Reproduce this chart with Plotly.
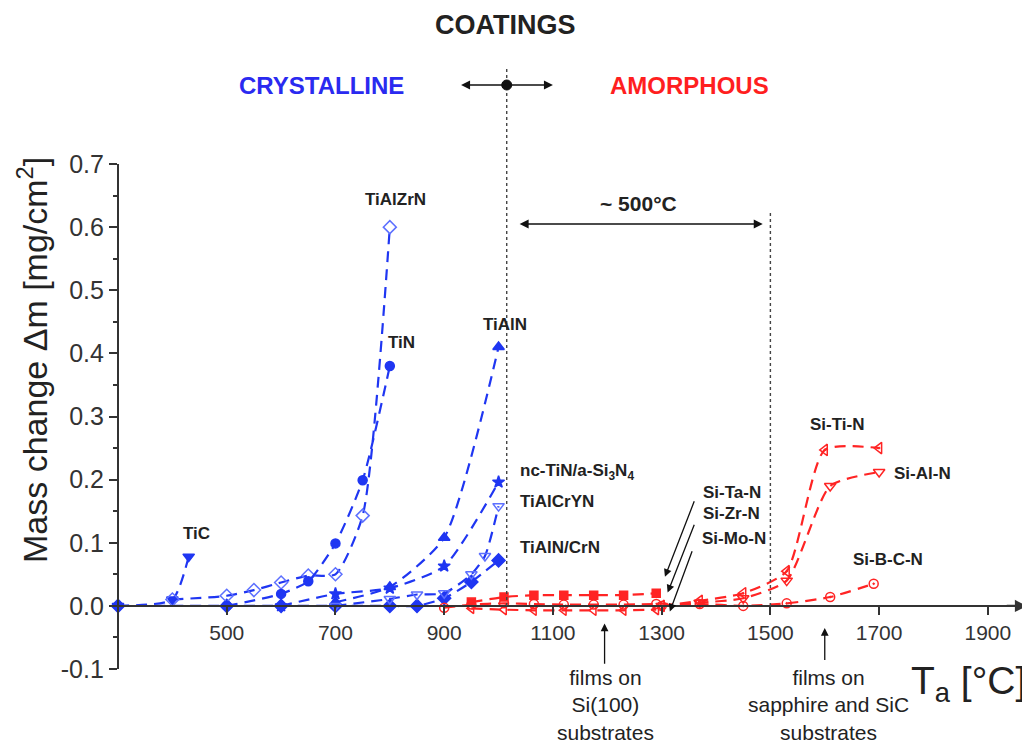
import plotly.graph_objects as go

# ---------------- data ----------------
tic_T = [300, 400, 430]
tic_m = [0.0, 0.01, 0.078]

tialzrn_T = [400, 500, 550, 600, 650, 700, 750, 800]
tialzrn_m = [0.01, 0.016, 0.025, 0.037, 0.048, 0.05, 0.143, 0.60]

tin_T = [500, 600, 650, 700, 750, 800]
tin_m = [0.0, 0.019, 0.039, 0.099, 0.199, 0.38]

tialn_T = [700, 800, 900, 1000]
tialn_m = [0.006, 0.03, 0.108, 0.41]

nc_T = [600, 700, 800, 900, 1000]
nc_m = [0.0, 0.019, 0.028, 0.063, 0.196]

tialcryn_T = [700, 800, 850, 900, 950, 975, 1000]
tialcryn_m = [0.0, 0.011, 0.018, 0.02, 0.05, 0.079, 0.158]

tialncrn_T = [300, 500, 600, 700, 800, 850, 900, 950, 1000]
tialncrn_m = [0.0, 0.0, 0.0, 0.0, 0.0, 0.0, 0.012, 0.038, 0.072]

sitan_T = [950, 1010, 1065, 1120, 1175, 1230, 1290]
sitan_m = [0.006, 0.014, 0.017, 0.017, 0.017, 0.017, 0.02]

sizrn_T = [900, 950, 1010, 1065, 1120, 1175, 1230, 1290]
sizrn_m = [-0.003, 0.002, 0.004, 0.003, 0.002, 0.002, 0.002, 0.003]

simon_T = [950, 1010, 1065, 1120, 1175, 1230, 1290]
simon_m = [-0.004, -0.006, -0.007, -0.007, -0.007, -0.007, -0.006]

sitin_T = [1300, 1370, 1450, 1530, 1600, 1700]
sitin_m = [0.0, 0.008, 0.02, 0.055, 0.247, 0.25]

sialn_T = [1300, 1370, 1450, 1530, 1610, 1700]
sialn_m = [0.0, 0.005, 0.012, 0.04, 0.19, 0.212]

sibcn_T = [1300, 1370, 1450, 1530, 1610, 1690]
sibcn_m = [0.0, 0.003, 0.0, 0.004, 0.014, 0.035]

x_ticks = [500, 700, 900, 1100, 1300, 1500, 1700, 1900]
y_ticks = [-0.1, 0.0, 0.1, 0.2, 0.3, 0.4, 0.5, 0.6, 0.7]
y_ticktext = ["-0.1", "0.0", "0.1", "0.2", "0.3", "0.4", "0.5", "0.6", "0.7"]
x_range = [300, 1972]
y_range = [-0.1, 0.7]

BLUE = "#1f36f2"
LBLUE = "#5d70ff"
RED = "#ff2424"
TXT = "#222222"
AX = "#333333"
FONT = "Liberation Sans, Arial, sans-serif"
DASH = "11px,7px"

fig = go.Figure()


def add(T, m, color, symbol, mcolor=None, size=9, lw=2.2):
    fig.add_trace(go.Scatter(
        x=T, y=m, mode="lines+markers", cliponaxis=False,
        line=dict(color=color, width=lw, dash=DASH, shape="spline", smoothing=0.6),
        marker=dict(symbol=symbol, size=size, color=mcolor or color,
                    line=dict(color=mcolor or color, width=1.5)),
        showlegend=False, hoverinfo="skip"))


add(tialncrn_T, tialncrn_m, BLUE, "diamond", size=10)
add(tic_T, tic_m, BLUE, "triangle-down", size=10)
add(tialzrn_T, tialzrn_m, BLUE, "diamond-open", mcolor=LBLUE, size=10)
add(tin_T, tin_m, BLUE, "circle", size=9)
add(tialn_T, tialn_m, BLUE, "triangle-up", size=10)
add(nc_T, nc_m, BLUE, "star", size=9)
add(tialcryn_T, tialcryn_m, BLUE, "triangle-down-open", mcolor=LBLUE, size=10)

add(sitan_T, sitan_m, RED, "square", size=8)
add(sizrn_T, sizrn_m, RED, "circle-open", size=9)
add(simon_T, simon_m, RED, "triangle-left-open", size=9)
add(sitin_T, sitin_m, RED, "triangle-left-open-dot", size=10)
add(sialn_T, sialn_m, RED, "triangle-down-open", size=10)
add(sibcn_T, sibcn_m, RED, "circle-open-dot", size=9)

# ---------------- geometry (page body has an 8px margin) ----------------
OFF = 8
W, H = 1022, 736
L, R, T_, B = 110, 3, 156, 75
pw, ph = W - L - R, H - T_ - B


def pyp(py):  # screen pixel y -> paper y
    return (H - B - (py - OFF)) / ph


def pxp(px):  # screen pixel x -> paper x
    return (px - OFF - L) / pw


y0p = (0 - y_range[0]) / (y_range[1] - y_range[0])

ann = []


def text(x, y, s, size=17, color=TXT, bold=True, xanchor="center", xref="x", yref="y", **kw):
    ann.append(dict(x=x, y=y, xref=xref, yref=yref, text=("<b>%s</b>" % s) if bold else s,
                    showarrow=False, xanchor=xanchor, yanchor="middle",
                    font=dict(family=FONT, size=size, color=color), **kw))


def arrow(x, y, ax, ay, side="end", color="#111111", width=1.3, head=2, asz=1.2):
    ann.append(dict(x=x, y=y, ax=ax, ay=ay, xref="x", yref="y", axref="x", ayref="y",
                    text="", showarrow=True, arrowhead=head, startarrowhead=head,
                    arrowsize=asz, startarrowsize=asz, arrowwidth=width,
                    arrowcolor=color, arrowside=side))


# curve labels
text(810, 0.643, "TiAlZrN")
text(822, 0.418, "TiN")
text(1012, 0.445, "TiAlN")
text(445, 0.115, "TiC")
text(1036, 0.212, "nc-TiN/a-Si<sub>3</sub>N<sub>4</sub>", xanchor="left")
text(1036, 0.165, "TiAlCrYN", xanchor="left")
text(1036, 0.092, "TiAlN/CrN", xanchor="left")
text(1373, 0.180, "Si-Ta-N", xanchor="left")
text(1373, 0.147, "Si-Zr-N", xanchor="left")
text(1371, 0.106, "Si-Mo-N", xanchor="left")
text(1570, 0.288, "Si-Ti-N", xanchor="left")
text(1724, 0.209, "Si-Al-N", xanchor="left")
text(1649, 0.074, "Si-B-C-N", xanchor="left")
text(1258, 0.637, "~ 500°C", size=21)

# header texts
text(pxp(505), pyp(25), "COATINGS", size=27, xref="paper", yref="paper")
text(pxp(321), pyp(85), "CRYSTALLINE", size=24, color="#2a2af0", xref="paper", yref="paper")
text(pxp(689), pyp(85), "AMORPHOUS", size=24, color="#ff1f1f", xref="paper", yref="paper")

# axis titles
ann.append(dict(x=pxp(32), y=pyp(360), xref="paper", yref="paper", showarrow=False,
                xanchor="center", yanchor="middle",
                text="Mass change Δm [mg/cm<sup>2</sup>]", textangle=-90,
                font=dict(family=FONT, size=34, color=TXT)))
ann.append(dict(x=pxp(968), y=pyp(683), xref="paper", yref="paper", showarrow=False,
                xanchor="center", yanchor="middle",
                text="T<sub>a</sub> [°C]", font=dict(family=FONT, size=39, color=TXT)))

# substrate notes
text(pxp(605), pyp(705), "films on<br>Si(100)<br>substrates", size=21, bold=False,
     xref="paper", yref="paper")
text(pxp(828), pyp(705), "films on<br>sapphire and SiC<br>substrates", size=21, bold=False,
     xref="paper", yref="paper")
arrow(1195, -0.028, 1195, -0.094, width=1.3)
arrow(1600, -0.035, 1600, -0.088, width=1.3)

# pointer arrows for Si-Ta-N, Si-Zr-N, Si-Mo-N
arrow(1306, 0.046, 1361, 0.168)
arrow(1311, 0.021, 1361, 0.131)
arrow(1315, -0.009, 1357, 0.089)

# ~500 °C span arrow
arrow(1486, 0.605, 1036, 0.605, side="end+start", width=1.5)

# crystalline/amorphous double arrow (in header area)
for xe in (931, 1100):
    ann.append(dict(x=xe, y=pyp(85), ax=1015, ay=0, xref="x", yref="paper", axref="x", ayref="pixel",
                    text="", showarrow=True, arrowhead=2, arrowsize=1.2, arrowwidth=1.5,
                    arrowcolor="#111"))

# x-axis arrowhead
ann.append(dict(x=x_range[1], y=0, ax=x_range[1] - 40, ay=0, xref="x", yref="y", axref="x", ayref="y",
                text="", showarrow=True, arrowhead=2, arrowsize=1.1, arrowwidth=2.2, arrowcolor=AX))

shapes = [
    dict(type="line", xref="x", yref="paper", x0=1015, x1=1015, y0=y0p, y1=pyp(69),
         line=dict(color="#444", width=1.4, dash="3px,3px")),
    dict(type="line", xref="x", yref="y", x0=1500, x1=1500, y0=0, y1=0.623,
         line=dict(color="#444", width=1.4, dash="3px,3px")),
    dict(type="circle", xref="x", yref="paper", xsizemode="pixel", ysizemode="pixel",
         xanchor=1015, yanchor=pyp(85), x0=-5, x1=5, y0=-5, y1=5,
         fillcolor="#111", line=dict(color="#111", width=1)),
]

fig.update_layout(
    width=W, height=H, margin=dict(l=L, r=R, t=T_, b=B),
    paper_bgcolor="white", plot_bgcolor="white",
    font=dict(family=FONT, color=AX),
    annotations=ann, shapes=shapes, showlegend=False,
    xaxis=dict(range=x_range, anchor="free", position=y0p, showline=True, linecolor=AX, linewidth=2.2,
               ticks="outside", ticklen=8, tickwidth=2, tickcolor=AX, tickvals=x_ticks,
               tickfont=dict(size=21, color=AX), showgrid=False, zeroline=False),
    yaxis=dict(range=y_range, anchor="free", position=0, showline=True, linecolor=AX, linewidth=2.2,
               ticks="outside", ticklen=8, tickwidth=2, tickcolor=AX,
               tickvals=y_ticks, ticktext=y_ticktext,
               tickfont=dict(size=25, color=AX), showgrid=False, zeroline=False,
               minor=dict(ticks="outside", ticklen=4, tickwidth=1.5, tickcolor=AX, dtick=0.05)),
)

fig.write_html("out.html")
